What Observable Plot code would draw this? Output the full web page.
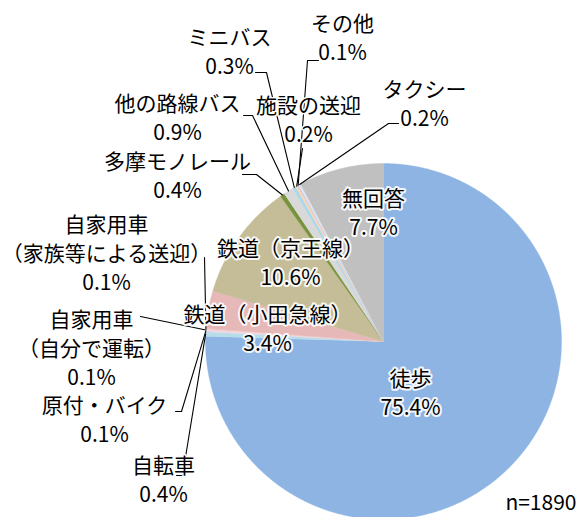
<!DOCTYPE html>
<html><head><meta charset="utf-8">
<script src="https://cdn.jsdelivr.net/npm/d3@7"></script>
<script src="https://cdn.jsdelivr.net/npm/@observablehq/plot@0.6"></script>
<style>html,body{margin:0;padding:0;background:#fff} svg{display:block}</style>
</head><body><div id="chart"></div>
<script>
// ---- data ----
const categories = ["徒歩","自転車","原付・バイク","自家用車\n（自分で運転）","自家用車\n（家族等による送迎）","鉄道（小田急線）","鉄道（京王線）","多摩モノレール","他の路線バス","ミニバス","施設の送迎","その他","タクシー","無回答"];
const values = [75.4,0.4,0.1,0.1,0.1,3.4,10.6,0.4,0.9,0.3,0.2,0.1,0.2,7.7];
const colors = ["#8EB4E3","#B7DEE8","#E4D4EC","#F2DCDB","#F4C7C7","#E6B9B8","#C4BD97","#77933C","#D9D9D9","#A9D8EA","#FCD5B5","#CCC1DA","#DCE6F2","#C0C0C0"];
const sampleNote = "n=1890";

// ---- layout (positions only) ----
const W = 581, H = 517, cx = 383, cy = 341, R = 178;
const labelPos = [[410,391],[163,478],[104,418],[91,346],[106,251],[267,327],[290,261],[177,174],[177,116],[229,50],[308,118],[342,36],[424,102],[373,211]];
const leaderElbows = [null,[[176,475],[182,475]],[[175,411],[181,411]],[[140,316]],[[204,257]],null,null,[[242,174],[256,174]],[[243,115],[252,115]],[[255,72],[266,72]],[[302,148]],[[318,60],[307,60]],[[398,123],[388,123]],null];
const haloed = new Set(["徒歩","鉄道（小田急線）","鉄道（京王線）","無回答"]);

// ---- build geometry from data ----
const arcs = d3.pie().sort(null).value(d => d)(values);
const slices = [];
arcs.forEach((a, i) => {
  const cat = categories[i];
  slices.push({cat, x: cx, y: cy});
  const n = Math.max(2, Math.ceil((a.endAngle - a.startAngle) / 0.005));
  for (let k = 0; k <= n; k++) {
    const t = a.startAngle + (a.endAngle - a.startAngle) * k / n;
    slices.push({cat, x: cx + R * Math.sin(t), y: cy - R * Math.cos(t)});
  }
  slices.push({cat, x: cx, y: cy});
});
const leaders = [];
arcs.forEach((a, i) => {
  if (!leaderElbows[i]) return;
  const cat = categories[i];
  leaderElbows[i].forEach(([x, y]) => leaders.push({cat, x, y}));
  const m = (a.startAngle + a.endAngle) / 2;
  leaders.push({cat, x: cx + R * Math.sin(m), y: cy - R * Math.cos(m)});
});
const labels = categories.map((c, i) => ({
  cat: c,
  text: c + "\n" + values[i].toFixed(1) + "%",
  x: labelPos[i][0], y: labelPos[i][1],
  halo: haloed.has(c)
}));

const font = "'Noto Sans CJK JP','Noto Sans',sans-serif";
const fs = 21, lh = 1.38;
const chart = Plot.plot({
  width: W, height: H,
  margin: 0,
  x: {domain: [0, W], range: [0, W], axis: null},
  y: {domain: [0, H], range: [0, H], axis: null},
  color: {domain: categories, range: colors},
  style: {fontFamily: font, background: "#fff"},
  marks: [
    Plot.line(slices, {x: "x", y: "y", z: "cat", fill: "cat", stroke: "cat", strokeWidth: 0.4}),
    Plot.line(leaders, {x: "x", y: "y", z: "cat", stroke: "#000", strokeWidth: 1.1}),
    Plot.text(labels.filter(d => d.halo), {x: "x", y: "y", text: "text", fontSize: fs, lineHeight: lh, lineAnchor: "middle", fill: "#000", stroke: "#fff", strokeWidth: 4, strokeOpacity: 0.9}),
    Plot.text(labels.filter(d => !d.halo), {x: "x", y: "y", text: "text", fontSize: fs, lineHeight: lh, lineAnchor: "middle", fill: "#000", stroke: "#fff", strokeWidth: 3}),
    Plot.text([sampleNote], {x: () => 576, y: () => 503, text: d => d, fontSize: fs, textAnchor: "end", fill: "#000"})
  ]
});
document.getElementById("chart").appendChild(chart);
</script>
</body></html>
